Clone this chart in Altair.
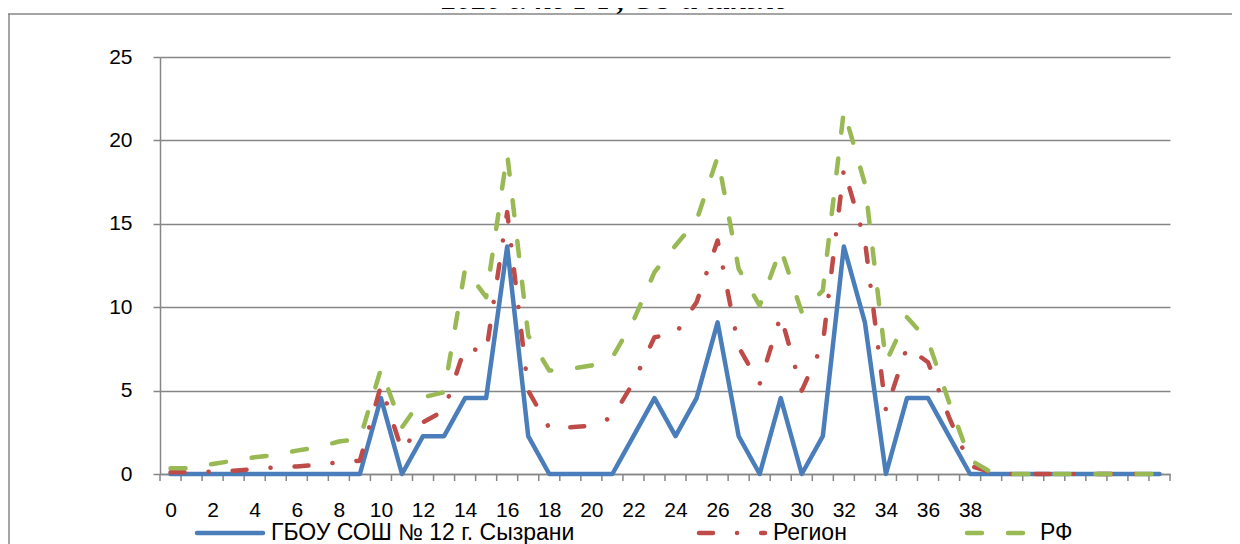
import altair as alt
import pandas as pd

# ---- data ----
categories = list(range(48))
tick_labels = list(range(0, 40, 2))
series_names = ["ГБОУ СОШ № 12 г. Сызрани", "Регион", "РФ"]

school = [0, 0, 0, 0, 0, 0, 0, 0, 0, 0,
          4.55, 0, 2.27, 2.27, 4.55, 4.55, 13.64, 2.27, 0, 0,
          0, 0, 2.27, 4.55, 2.27, 4.55, 9.09, 2.27, 0, 4.55,
          0, 2.27, 13.64, 9.09, 0, 4.55, 4.55, 2.27, 0, 0,
          0, 0, 0, 0, 0, 0, 0, 0]
region = [0.1, 0.1, 0.15, 0.2, 0.3, 0.4, 0.45, 0.55, 0.7, 0.8,
          5.3, 1.4, 3.1, 3.8, 7.6, 7.3, 15.7, 5.0, 2.75, 2.8,
          2.9, 3.4, 5.5, 8.2, 8.4, 10.3, 14.0, 7.6, 5.4, 9.5,
          5.0, 7.8, 18.3, 14.0, 3.8, 7.6, 6.7, 3.4, 0.5, 0.1,
          0, 0, 0, 0, 0, 0, 0, 0]
russia = [0.35, 0.35, 0.6, 0.8, 1.0, 1.15, 1.4, 1.6, 1.95, 2.1,
          6.3, 2.8, 4.6, 4.9, 12.3, 10.6, 19.2, 8.3, 6.2, 6.3,
          6.5, 7.0, 9.2, 12.1, 13.7, 15.2, 19.0, 12.3, 10.1, 13.5,
          9.7, 11.0, 21.8, 17.4, 6.7, 9.4, 8.0, 4.3, 0.85, 0.1,
          0, 0, 0, 0, 0, 0, 0, 0]
title_text = "2020 г. по РФ, СО и школе"

colors = ["#4A7EBB", "#BE4B48", "#98B954"]
dashes = [[1, 0], [14, 24, 0.1, 24], [15, 26]]

rows = []
for name, vals in zip(series_names, [school, region, russia]):
    for c, v in zip(categories, vals):
        rows.append({"idx": c, "value": v, "series": name})
df = pd.DataFrame(rows)
bounds = pd.DataFrame({"b": [c - 0.5 for c in categories] + [categories[-1] + 0.5]})

W, H = 1010, 417
GRID = "#868686"
FONT = "Liberation Sans"

xscale = alt.Scale(domain=[categories[0] - 0.5, categories[-1] + 0.5], nice=False, zero=False)
yscale = alt.Scale(domain=[0, 25], nice=False)
xaxis = alt.Axis(values=tick_labels, format="d", title=None, grid=False, ticks=False, tickSize=0,
                 domainColor=GRID, domainWidth=1.5, labelFont=FONT, labelFontSize=21,
                 labelColor="black", labelPadding=42, labelBaseline="alphabetic", labelFlush=False)
yaxis = alt.Axis(values=[0, 5, 10, 15, 20, 25], title=None, grid=True, gridColor=GRID, gridWidth=1.5,
                 tickSize=7, tickColor=GRID, tickWidth=1.5, domainColor=GRID, domainWidth=1.5,
                 labelFont=FONT, labelFontSize=21, labelColor="black", labelPadding=21)

base = alt.Chart(df).encode(
    x=alt.X("idx:Q", scale=xscale, axis=xaxis),
    y=alt.Y("value:Q", scale=yscale, axis=yaxis),
)

layers = []
for name, col, dsh in zip(series_names, colors, dashes):
    kw = dict(color=col, strokeWidth=4.5, strokeJoin="round", strokeCap="round")
    if name != series_names[0]:
        kw["strokeDash"] = dsh
    layers.append(base.transform_filter(alt.datum.series == name).mark_line(**kw))

ticks = alt.Chart(bounds).mark_rule(color=GRID, strokeWidth=1.5).encode(
    x=alt.X("b:Q", scale=xscale, axis=xaxis), y=alt.value(H), y2=alt.value(H + 7))

one = pd.DataFrame({"k": [0]})
deco = []
# frame (top and left border)
deco.append(alt.Chart(one).mark_rule(color=GRID, strokeWidth=1.5).encode(
    x=alt.value(-160), x2=alt.value(1080), y=alt.value(-43)))
deco.append(alt.Chart(one).mark_rule(color=GRID, strokeWidth=1.5).encode(
    x=alt.value(-151), y=alt.value(-43), y2=alt.value(500)))
# title (cut off at top as in the reference)
deco.append(alt.Chart(pd.DataFrame({"t": [title_text]})).mark_text(
    font="Liberation Serif", fontSize=30, fontWeight="bold", fontStyle="italic",
    align="center", baseline="alphabetic", color="black").encode(
    text="t:N", x=alt.value(455), y=alt.value(-48)))
# legend
leg_sym = [(37, 103), (539, 605), (807, 863)]
leg_txt = [111, 613, 880]
for name, col, dsh, (a, b), tx in zip(series_names, colors, dashes, leg_sym, leg_txt):
    kw = dict(color=col, strokeWidth=4.5, strokeCap="round")
    if name != series_names[0]:
        kw["strokeDash"] = dsh
    deco.append(alt.Chart(one).mark_rule(**kw).encode(
        x=alt.value(a), x2=alt.value(b), y=alt.value(476)))
    deco.append(alt.Chart(pd.DataFrame({"t": [name]})).mark_text(
        font=FONT, fontSize=23, align="left", baseline="alphabetic", color="black").encode(
        text="t:N", x=alt.value(tx), y=alt.value(483)))

chart = alt.layer(ticks, *layers, *deco).properties(
    width=W, height=H,
    autosize=alt.AutoSizeParams(type="none"),
    padding={"left": 152, "top": 49, "right": 62, "bottom": 70},
).configure_view(stroke=None)

chart.save("out.html", embed_options={"renderer": "svg", "actions": False})
